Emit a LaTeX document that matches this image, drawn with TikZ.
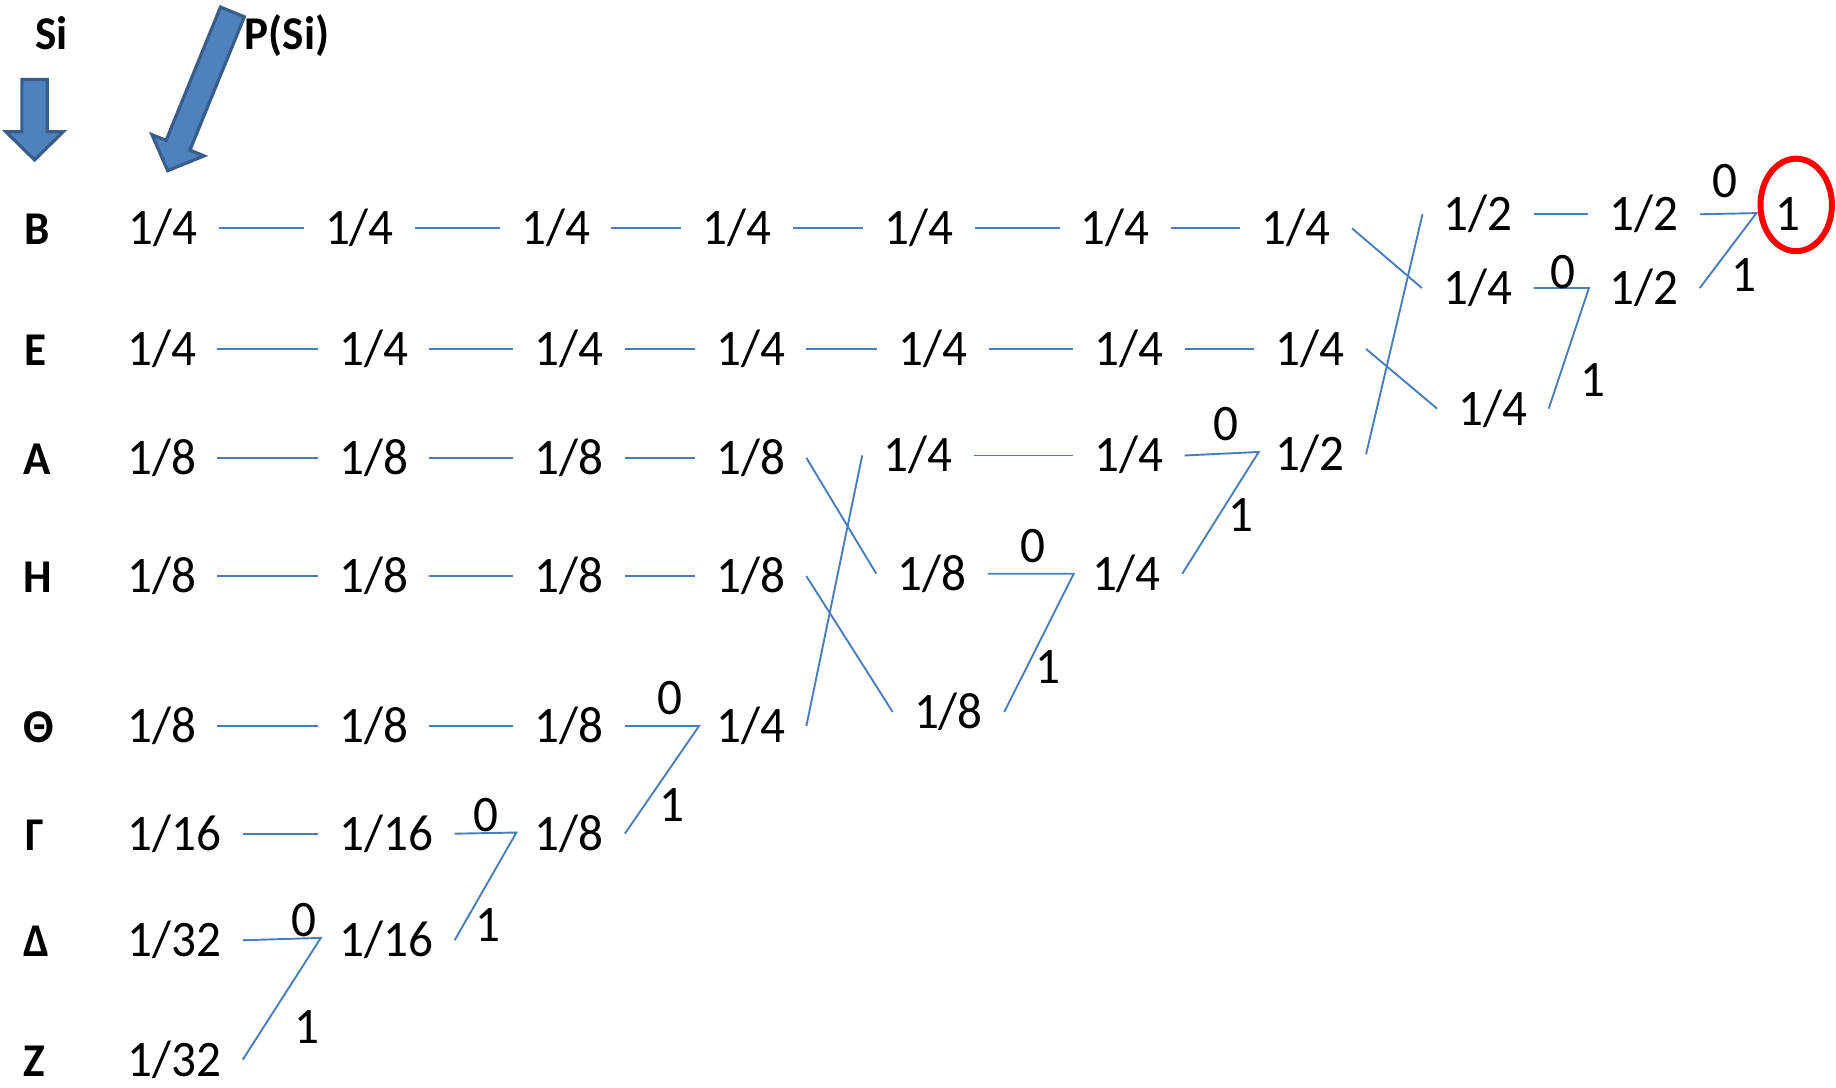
\documentclass[tikz,border=0pt]{standalone}
\usepackage{fontspec}
\setmainfont{Carlito}[FakeStretch=0.96]
\usepackage{tikz}

\definecolor{linkblue}{RGB}{74,126,187}
\definecolor{arrowfill}{RGB}{79,129,189}
\definecolor{arrowline}{RGB}{56,93,138}

\begin{document}
\begin{tikzpicture}[x=0.5855pt, y=-0.5855pt,
    frac/.style={inner xsep=10.5pt, inner ysep=0pt, text height=21pt, text depth=4.6pt, font=\fontsize{25.6}{30}\selectfont},
    bit/.style={frac, inner xsep=0pt},
    lbl/.style={frac, inner xsep=0pt, font=\fontsize{23.5}{28}\selectfont\bfseries},
    link/.style={draw=linkblue, line width=0.95pt},
    blockarrow/.style={fill=arrowfill, draw=arrowline, line width=1.6pt, line join=miter}]

              \useasboundingbox (0,0) rectangle (1568,929);

              % Headings and the two block arrows
              \node[lbl] (si) at (44,28) {Si};
              \node[lbl] (psi) at (245,28) {P(Si)};
              \begin{scope}[shift={(29.5,67.8)}, rotate=-90]
                \path[blockarrow] (0,10.8) -- (44.7,10.8) -- (44.7,24.5) -- (68.8,0) -- (44.7,-24.5) -- (44.7,-10.8) -- (0,-10.8) -- cycle;
              \end{scope}
              \begin{scope}[shift={(198.5,10.2)}, rotate=-112.2]
                \path[blockarrow] (0,11) -- (123,11) -- (123,24) -- (146.4,0) -- (123,-24) -- (123,-11) -- (0,-11) -- cycle;
              \end{scope}

              % Symbols
              \node[lbl] (sb) at (32,195) {Β};
              \node[lbl] (se) at (30,298) {Ε};
              \node[lbl] (sa) at (32,391) {Α};
              \node[lbl] (sh) at (32,492) {Η};
              \node[lbl] (sq) at (33,620) {Θ};
              \node[lbl] (sg) at (30,712) {Γ};
              \node[lbl] (sd) at (31,803) {Δ};
              \node[lbl] (sz) at (29,905) {Ζ};

              % Row B
              \node[frac] (b1) at (139,195) {1/4};
              \node[frac] (b2) at (307,195) {1/4};
              \node[frac] (b3) at (474.5,195) {1/4};
              \node[frac] (b4) at (629.5,195) {1/4};
              \node[frac] (b5) at (785,195) {1/4};
              \node[frac] (b6) at (952.5,195) {1/4};
              \node[frac] (b7) at (1107,195) {1/4};
              \draw[link] (b1) -- (b2);
              \draw[link] (b2) -- (b3);
              \draw[link] (b3) -- (b4);
              \draw[link] (b4) -- (b5);
              \draw[link] (b5) -- (b6);
              \draw[link] (b6) -- (b7);

              % Row E
              \node[frac] (e1) at (138,298) {1/4};
              \node[frac] (e2) at (319,298) {1/4};
              \node[frac] (e3) at (486,298) {1/4};
              \node[frac] (e4) at (641,298) {1/4};
              \node[frac] (e5) at (797,298) {1/4};
              \node[frac] (e6) at (964,298) {1/4};
              \node[frac] (e7) at (1119,298) {1/4};
              \draw[link] (e1) -- (e2);
              \draw[link] (e2) -- (e3);
              \draw[link] (e3) -- (e4);
              \draw[link] (e4) -- (e5);
              \draw[link] (e5) -- (e6);
              \draw[link] (e6) -- (e7);

              % Row A
              \node[frac] (a1) at (138,391) {1/8};
              \node[frac] (a2) at (319,391) {1/8};
              \node[frac] (a3) at (486,391) {1/8};
              \node[frac] (a4) at (641,391) {1/8};
              \node[frac] (a5) at (784,389) {1/4};
              \node[frac] (a6) at (964,389) {1/4};
              \node[frac] (a7) at (1119,388) {1/2};
              \draw[link] (a1) -- (a2);
              \draw[link] (a2) -- (a3);
              \draw[link] (a3) -- (a4);
              \draw[link] (a5) -- (a6);

              % Row H
              \node[frac] (h1) at (138,492) {1/8};
              \node[frac] (h2) at (319,492) {1/8};
              \node[frac] (h3) at (486,492) {1/8};
              \node[frac] (h4) at (641,492) {1/8};
              \node[frac] (h5) at (796,490) {1/8};
              \node[frac] (h6) at (962,490) {1/4};
              \node[frac] (h7) at (810,608) {1/8};
              \draw[link] (h1) -- (h2);
              \draw[link] (h2) -- (h3);
              \draw[link] (h3) -- (h4);

              % Rows Theta, Gamma, Delta, Z
              \node[frac] (q1) at (138,620) {1/8};
              \node[frac] (q2) at (319,620) {1/8};
              \node[frac] (q3) at (486,620) {1/8};
              \node[frac] (q4) at (641,620) {1/4};
              \node[frac] (g1) at (149,712) {1/16};
              \node[frac] (g2) at (330,712) {1/16};
              \node[frac] (g3) at (486,712) {1/8};
              \node[frac] (d1) at (149,803) {1/32};
              \node[frac] (d2) at (330,803) {1/16};
              \node[frac] (z1) at (149,905) {1/32};
              \draw[link] (q1) -- (q2);
              \draw[link] (q2) -- (q3);
              \draw[link] (g1) -- (g2);

              % Right part
              \node[frac] (r1) at (1262.5,183) {1/2};
              \node[frac] (r2) at (1404,183) {1/2};
              \node[frac] (s1) at (1262,246) {1/4};
              \node[frac] (s2) at (1404,246) {1/2};
              \node[frac] (t1) at (1275,349) {1/4};
              \node[frac] (fin) at (1527,183) {1};
              \draw[link] (r1) -- (r2);
              \draw[red, line width=3pt] (1534,175) ellipse [x radius=30.5, y radius=39.5];

              % Crossings
              \draw[link] (a4.east) -- (h5.west);
              \draw[link] (h4.east) -- (h7.west);
              \draw[link] (q4.east) -- (a5.west);
              \draw[link] (b7.east) -- (s1.west);
              \draw[link] (e7.east) -- (t1.west);
              \draw[link] (a7.east) -- (r1.west);

              % Merges with 0 on top and 1 below
              \coordinate (j1) at (274,801);
              \coordinate (j2) at (441,711);
              \coordinate (j3) at (597,620);
              \coordinate (j4) at (917,490);
              \coordinate (j5) at (1075,386);
              \coordinate (j6) at (1357,246);
              \coordinate (j7) at (1500,182);
              \draw[link] (d1.east) -- (j1) -- (z1.east);
              \draw[link] (g2.east) -- (j2) -- (d2.east);
              \draw[link] (q3.east) -- (j3) -- (g3.east);
              \draw[link] (h5.east) -- (j4) -- (h7.east);
              \draw[link] (a6.east) -- (j5) -- (h6.east);
              \draw[link] (s1.east) -- (j6) -- (t1.east);
              \draw[link] (r2.east) -- (j7) -- (s2.east);
              \node[bit] (o1) at (260,786) {0};
              \node[bit] (i1) at (262,877) {1};
              \node[bit] (o2) at (415,696) {0};
              \node[bit] (i2) at (417,790) {1};
              \node[bit] (o3) at (572,596) {0};
              \node[bit] (i3) at (574,688) {1};
              \node[bit] (o4) at (882,466) {0};
              \node[bit] (i4) at (895,570) {1};
              \node[bit] (o5) at (1047,362) {0};
              \node[bit] (i5) at (1060,440) {1};
              \node[bit] (o6) at (1335,232) {0};
              \node[bit] (i6) at (1360,325) {1};
              \node[bit] (o7) at (1473,155) {0};
              \node[bit] (i7) at (1489,235) {1};
        \end{tikzpicture}
\end{document}
